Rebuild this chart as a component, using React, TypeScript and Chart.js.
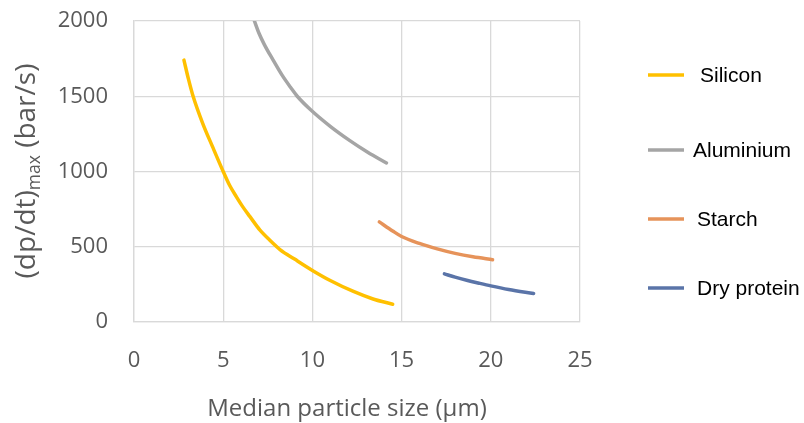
import React, { useEffect, useRef } from 'react';
import { Chart, registerables } from 'chart.js';

Chart.register(...registerables);

// ---- Data ----
const seriesNames = ['Silicon', 'Aluminium', 'Starch', 'Dry protein'];

const siliconX = [2.8, 3.05, 3.3, 3.85, 4.4, 5.0, 5.35, 5.75, 6.1, 6.5, 7.05, 7.6, 8.2, 9.0, 10.0, 11.0, 12.3, 13.4, 14.5];
const siliconY = [1740, 1615, 1505, 1320, 1165, 1000, 910, 830, 765, 700, 612, 545, 480, 418, 343, 276, 203, 153, 118];

const aluminiumX = [6.75, 7.0, 7.3, 7.8, 8.3, 8.8, 9.15, 9.9, 11.0, 12.1, 13.1, 14.15];
const aluminiumY = [2000, 1920, 1845, 1740, 1640, 1555, 1500, 1410, 1300, 1205, 1128, 1057];

const starchX = [13.75, 14.5, 15.0, 16.0, 17.0, 18.0, 19.0, 20.1];
const starchY = [665, 605, 568, 522, 486, 456, 433, 414];

const proteinX = [17.4, 18.0, 18.7, 19.3, 20.0, 21.0, 22.4];
const proteinY = [320, 298, 276, 259, 240, 216, 189];

const xTicks = [0, 5, 10, 15, 20, 25];
const yTicks = [0, 500, 1000, 1500, 2000];

const xTitle = 'Median particle size (\u03bcm)';
const yTitleParts = ['(dp/dt)', 'max', ' (bar/s)'];

const colors = ['#FFC000', '#A5A5A5', '#E6935A', '#5A74A8'];

const toPts = (xs: number[], ys: number[]) => xs.map((x, i) => ({ x, y: ys[i] }));

const TEXT = '#595959';
const FONT = '"Open Sans", sans-serif';

const overlayPlugin = {
  id: 'overlay',
  afterDraw(chart: any) {
    const ctx = chart.ctx as CanvasRenderingContext2D;
    // X title
    ctx.save();
    ctx.fillStyle = TEXT;
    ctx.font = `24px ${FONT}`;
    ctx.textAlign = 'center';
    ctx.textBaseline = 'alphabetic';
    ctx.fillText(xTitle, 347, 416);
    ctx.restore();

    // Y title with subscript
    ctx.save();
    ctx.fillStyle = TEXT;
    ctx.translate(35, 171);
    ctx.rotate(-Math.PI / 2);
    const big = `28px ${FONT}`;
    const small = `17.5px ${FONT}`;
    ctx.font = big;
    const w1 = ctx.measureText(yTitleParts[0]).width;
    const w3 = ctx.measureText(yTitleParts[2]).width;
    ctx.font = small;
    const w2 = ctx.measureText(yTitleParts[1]).width;
    let x0 = -(w1 + w2 + w3) / 2;
    ctx.textAlign = 'left';
    ctx.textBaseline = 'alphabetic';
    ctx.font = big;
    ctx.fillText(yTitleParts[0], x0, 0);
    x0 += w1;
    ctx.font = small;
    ctx.fillText(yTitleParts[1], x0, 5);
    x0 += w2;
    ctx.font = big;
    ctx.fillText(yTitleParts[2], x0, 0);
    ctx.restore();

    // Legend
    const rowsY = [75, 150, 219, 288];
    const textX = [700, 693, 697, 697];
    ctx.save();
    chart.data.datasets.forEach((ds: any, i: number) => {
      ctx.strokeStyle = ds.borderColor;
      ctx.lineWidth = 3.5;
      ctx.beginPath();
      ctx.moveTo(648, rowsY[i]);
      ctx.lineTo(684, rowsY[i]);
      ctx.stroke();
      ctx.fillStyle = '#000000';
      ctx.font = '21px "Liberation Sans", Arial, sans-serif';
      ctx.textAlign = 'left';
      ctx.textBaseline = 'middle';
      ctx.fillText(ds.label, textX[i], rowsY[i] + 1);
    });
    ctx.restore();
  },
};

export default function App() {
  const ref = useRef<HTMLCanvasElement>(null);

  useEffect(() => {
    if (!ref.current) return;
    const series = [
      toPts(siliconX, siliconY),
      toPts(aluminiumX, aluminiumY),
      toPts(starchX, starchY),
      toPts(proteinX, proteinY),
    ];
    const chart = new Chart(ref.current, {
      type: 'line',
      data: {
        datasets: series.map((data, i) => ({
          label: seriesNames[i],
          data,
          borderColor: colors[i],
          backgroundColor: colors[i],
          borderWidth: 3.5,
          pointRadius: 0,
          cubicInterpolationMode: 'monotone' as const,
          borderCapStyle: 'round' as const,
          fill: false,
        })),
      },
      options: {
        animation: false,
        responsive: false,
        maintainAspectRatio: false,
        layout: { padding: { top: 21, left: 0, right: 224, bottom: 0 } },
        plugins: {
          legend: { display: false },
          tooltip: { enabled: false },
        },
        scales: {
          x: {
            type: 'linear',
            min: 0,
            max: 25,
            afterFit: (s: any) => { s.height = 101; s.paddingLeft = 0; s.paddingRight = 0; },
            afterBuildTicks: (s: any) => { s.ticks = xTicks.map((v) => ({ value: v })); },
            grid: { color: '#D9D9D9', lineWidth: 1.3, drawTicks: false },
            border: { color: '#D9D9D9', width: 1.3 },
            ticks: {
              color: TEXT,
              font: { family: FONT, size: 22 },
              padding: 26,
              maxRotation: 0,
              callback: (v: any) => String(v),
            },
          },
          y: {
            type: 'linear',
            min: 0,
            max: 2000,
            afterFit: (s: any) => { s.width = 134; s.paddingTop = 0; s.paddingBottom = 0; },
            afterBuildTicks: (s: any) => { s.ticks = yTicks.map((v) => ({ value: v })); },
            grid: { color: '#D9D9D9', lineWidth: 1.3, drawTicks: false },
            border: { color: '#D9D9D9', width: 1.3 },
            ticks: {
              color: TEXT,
              font: { family: FONT, size: 22 },
              padding: 26,
              callback: (v: any) => String(v),
            },
          },
        },
      },
      plugins: [overlayPlugin],
    });
    return () => chart.destroy();
  }, []);

  return (
    <div style={{ position: 'fixed', left: 0, top: 0, width: 804, height: 423, background: '#fff' }}>
      <canvas ref={ref} width={804} height={423} style={{ width: 804, height: 423 }} />
    </div>
  );
}
